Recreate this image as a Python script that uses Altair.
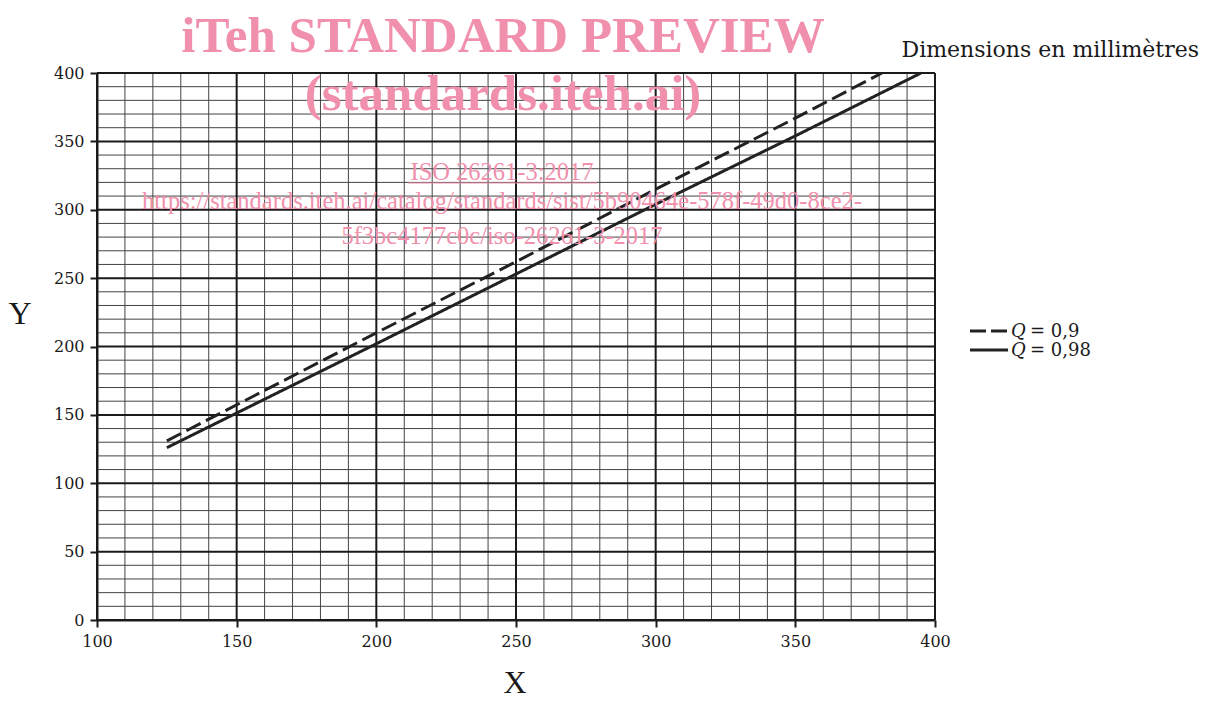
import altair as alt
import pandas as pd

# ---- data ----
series = ["Q = 0,9", "Q = 0,98"]
x_q90 = [125, 200, 250, 300, 350, 381]
y_q90 = [131, 210, 262, 315, 367, 400]
x_q98 = [125, 200, 250, 300, 350, 395]
y_q98 = [126, 202, 253, 304, 354, 400]

x_ticks = [100, 150, 200, 250, 300, 350, 400]
y_ticks = [0, 50, 100, 150, 200, 250, 300, 350, 400]
x_minor = [v for v in range(110, 400, 10) if v % 50]
y_minor = [v for v in range(10, 400, 10) if v % 50]

lines = pd.DataFrame({
    "x": x_q90 + x_q98,
    "y": y_q90 + y_q98,
    "s": [series[0]] * len(x_q90) + [series[1]] * len(x_q98),
})

PINK = "#F090AC"
SERIF = "DejaVu Serif"
TIMES = "Liberation Serif"

xs = alt.Scale(domain=[100, 400], nice=False, zero=False)
ys = alt.Scale(domain=[0, 400], nice=False, zero=False)

axis_common = dict(
    grid=False, domain=True, domainColor="#1a1a1a", domainWidth=2,
    ticks=True, tickColor="#1a1a1a", tickWidth=2, tickSize=7,
    labelFont=SERIF, labelFontSize=16, labelColor="#1a1a1a", title=None,
    labelFlush=False, labelOverlap=False, labelBound=False,
)
X_AXIS = alt.Axis(values=x_ticks, labelPadding=6, **axis_common)
Y_AXIS = alt.Axis(values=y_ticks, labelPadding=6, **axis_common)

minor_x = alt.Chart(pd.DataFrame({"v": x_minor})).mark_rule(
    color="#444", strokeWidth=1).encode(x=alt.X("v:Q", scale=xs, axis=X_AXIS))
minor_y = alt.Chart(pd.DataFrame({"v": y_minor})).mark_rule(
    color="#444", strokeWidth=1).encode(y=alt.Y("v:Q", scale=ys, axis=Y_AXIS))
major_x = alt.Chart(pd.DataFrame({"v": x_ticks})).mark_rule(
    color="#1a1a1a", strokeWidth=2).encode(x=alt.X("v:Q", scale=xs, axis=X_AXIS))
major_y = alt.Chart(pd.DataFrame({"v": y_ticks})).mark_rule(
    color="#1a1a1a", strokeWidth=2).encode(y=alt.Y("v:Q", scale=ys, axis=Y_AXIS))

line_chart = alt.Chart(lines).mark_line(
    strokeWidth=3, strokeCap="butt", color="#222222"
).encode(
    x=alt.X("x:Q", scale=xs, axis=X_AXIS),
    y=alt.Y("y:Q", scale=ys, axis=Y_AXIS),
    strokeDash=alt.StrokeDash("s:N", scale=alt.Scale(domain=series, range=[[16, 6], [1, 0]]), legend=None),
    detail="s:N",
)

one = pd.DataFrame({"t": [""]})

def txt(text, x, y, size, font, color="#1a1a1a", align="center", weight="normal", style="normal"):
    return alt.Chart(one).mark_text(
        text=text, font=font, fontSize=size, color=color, align=align,
        baseline="alphabetic", fontWeight=weight, fontStyle=style,
    ).encode(x=alt.value(x), y=alt.value(y))

texts = [
    txt("iTeh STANDARD PREVIEW", 406, -21, 51, TIMES, PINK, weight="bold"),
    txt("(standards.iteh.ai)", 406, 37, 51, TIMES, PINK, weight="bold"),
    txt("ISO 26261-3:2017", 405, 107, 24.5, TIMES, PINK),
    txt("https://standards.iteh.ai/catalog/standards/sist/5b90464e-578f-49d0-8ce2-", 405, 136, 24.5, TIMES, PINK),
    txt("5f3bc4177c0c/iso-26261-3-2017", 405, 171, 24.5, TIMES, PINK),
    txt("Dimensions en millimètres", 1102, -16, 22, SERIF, align="right"),
    txt("Y", -77, 251, 32, TIMES),
    txt("X", 418, 620, 32, TIMES),
    txt("Q", 914, 264, 18, SERIF, align="left", style="italic"),
    txt("= 0,9", 933, 264, 18, SERIF, align="left"),
    txt("Q", 914, 283, 18, SERIF, align="left", style="italic"),
    txt("= 0,98", 933, 283, 18, SERIF, align="left"),
]

underline = alt.Chart(one).mark_rule(color=PINK, strokeWidth=1.2).encode(
    x=alt.value(311), x2=alt.value(500), y=alt.value(110))

leg_dash = alt.Chart(one).mark_rule(color="#222222", strokeWidth=3, strokeDash=[16, 5]).encode(
    x=alt.value(873), x2=alt.value(911), y=alt.value(258))
leg_solid = alt.Chart(one).mark_rule(color="#222222", strokeWidth=3).encode(
    x=alt.value(873), x2=alt.value(911), y=alt.value(277))

chart = alt.layer(
    minor_x, minor_y, major_x, major_y, line_chart, underline, leg_dash, leg_solid, *texts
).resolve_scale(x="shared", y="shared").properties(
    width=838, height=547,
    padding={"left": 89, "top": 65, "right": 273, "bottom": 81},
    autosize=alt.AutoSizeParams(type="none"),
).configure_view(stroke=None).configure(background="white")

chart.save("out.html", embed_options={"renderer": "svg", "actions": False})
